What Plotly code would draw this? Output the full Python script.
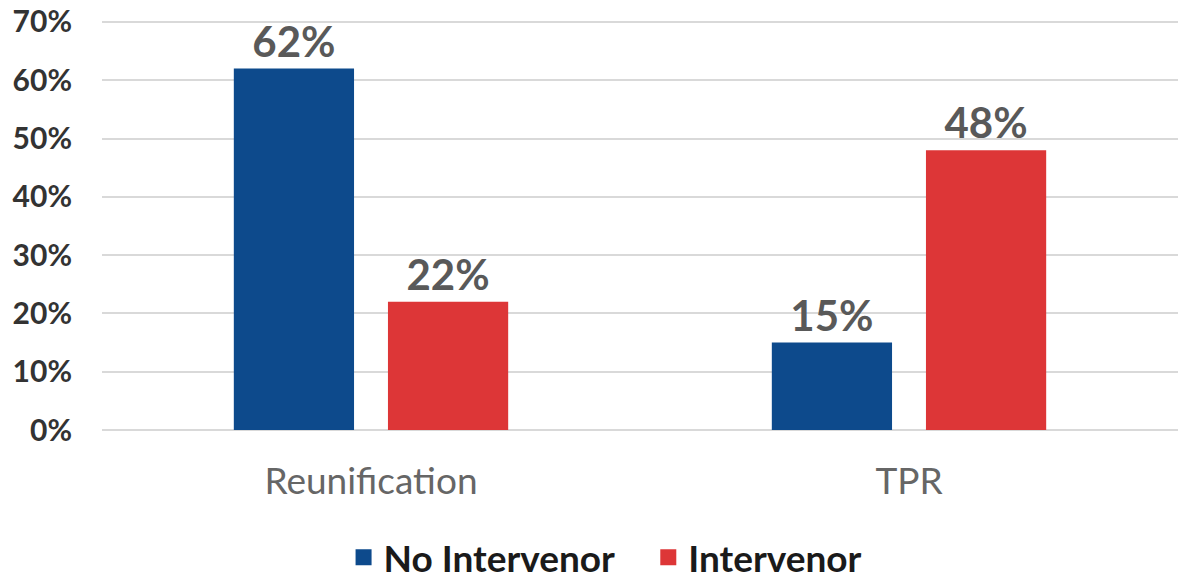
import plotly.graph_objects as go

categories = ["Reunification", "TPR"]
no_intervenor = [0.62, 0.15]
intervenor = [0.22, 0.48]
y_ticks = [0, 0.1, 0.2, 0.3, 0.4, 0.5, 0.6, 0.7]
y_tick_labels = ["0%", "10%", "20%", "30%", "40%", "50%", "60%", "70%"]
series_names = ["No Intervenor", "Intervenor"]

blue = "#0D4A8C"
red = "#DD3637"
label_font = dict(family="Lato", size=42, color="#595959")

fig = go.Figure()
legend_pad = ["\u00a0\u00a0\u00a0", ""]
for i, (name, vals, col) in enumerate([(series_names[0], no_intervenor, blue), (series_names[1], intervenor, red)]):
    fig.add_trace(go.Bar(
        name=name, x=categories, y=vals, showlegend=False,
        marker_color=col, marker_line_width=0,
        text=[f"<b>{v*100:.0f}%</b>" for v in vals],
        textposition="outside", textfont=label_font, cliponaxis=False,
    ))
    # legend entry with a larger square symbol
    fig.add_trace(go.Scatter(
        name=f"<b>{name}</b>{legend_pad[i]}", x=[None], y=[None], mode="markers",
        marker=dict(symbol="square", size=22, color=col), showlegend=True,
    ))

fig.update_layout(
    width=1186, height=579,
    margin=dict(l=102, r=8, t=19, b=149, autoexpand=False),
    plot_bgcolor="white", paper_bgcolor="white",
    barmode="group", bargap=0.427, bargroupgap=0.22,
    font=dict(family="Lato", color="#404040"),
    showlegend=True,
    legend=dict(orientation="h", x=0.468, xanchor="center", y=-0.311, yanchor="middle",
                font=dict(family="Lato", size=37, color="#1a1a1a"),
                tracegroupgap=0, traceorder="normal"),
    xaxis=dict(showgrid=False, showline=False, ticks="outside", ticklen=19,
               tickcolor="rgba(0,0,0,0)", automargin=False,
               tickfont=dict(family="Lato", size=37, color="#666666")),
    yaxis=dict(range=[0, 0.705], tickvals=y_ticks, ticktext=[f"<b>{t}</b>" for t in y_tick_labels],
               showgrid=True, gridcolor="#d9d9d9", gridwidth=1.5,
               zeroline=True, zerolinecolor="#d9d9d9", zerolinewidth=1.5,
               showline=False, ticks="outside", ticklen=23, tickcolor="rgba(0,0,0,0)",
               automargin=False,
               tickfont=dict(family="Lato", size=30, color="#333333")),
)

fig.write_html("out.html", config={"displayModeBar": False},
               post_script="document.body.style.margin='0';")
